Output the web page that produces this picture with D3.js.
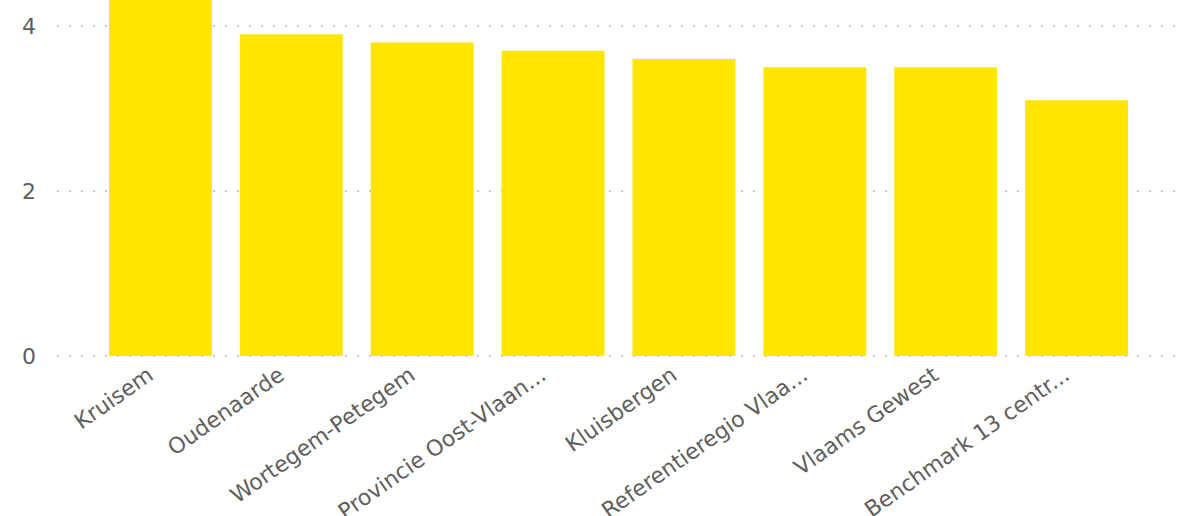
<!DOCTYPE html>
<html><head><meta charset="utf-8">
<script src="https://cdn.jsdelivr.net/npm/d3@7"></script>
<style>body{margin:0;background:#fff;} svg{display:block;}</style>
</head><body>
<script>
const categories = ["Kruisem","Oudenaarde","Wortegem-Petegem","Provincie Oost-Vlaan...","Kluisbergen","Referentieregio Vlaa...","Vlaams Gewest","Benchmark 13 centr..."];
const values = [4.5, 3.9, 3.8, 3.7, 3.6, 3.5, 3.5, 3.1];
const yTicks = [0, 2, 4];

const W = 1194, H = 516;
const svg = d3.select("body").append("svg").attr("width", W).attr("height", H);

const x = d3.scaleBand().domain(categories).range([60, 1177]).paddingInner(0.214).paddingOuter(0.3745);
const y = d3.scaleLinear().domain([0, 4]).range([356, 26]);

const font = "'DejaVu Sans', sans-serif";

// gridlines
svg.append("g").selectAll("line").data(yTicks).join("line")
  .attr("x1", 57).attr("x2", 1178)
  .attr("y1", d => y(d)).attr("y2", d => y(d))
  .attr("stroke", "#c8c8c8").attr("stroke-width", 2)
  .attr("stroke-dasharray", "2,10");

// y labels
svg.append("g").selectAll("text").data(yTicks).join("text")
  .attr("x", 36).attr("y", d => y(d)).attr("dy", "0.36em")
  .attr("text-anchor", "end")
  .attr("font-family", font).attr("font-size", 22).attr("fill", "#605E5C")
  .text(d => d);

// bars
svg.append("g").selectAll("rect").data(values).join("rect")
  .attr("x", (d, i) => x(categories[i]))
  .attr("width", x.bandwidth())
  .attr("y", d => y(d))
  .attr("height", d => y(0) - y(d))
  .attr("fill", "#FFE600");

// x labels
svg.append("g").selectAll("text").data(categories).join("text")
  .attr("transform", d => `translate(${x(d) + x.bandwidth()/2 - 10},${372}) rotate(-35)`)
  .attr("text-anchor", "end")
  .attr("dy", "0.35em")
  .attr("font-family", font).attr("font-size", 22).attr("fill", "#605E5C")
  .text(d => d);
</script>
</body></html>
